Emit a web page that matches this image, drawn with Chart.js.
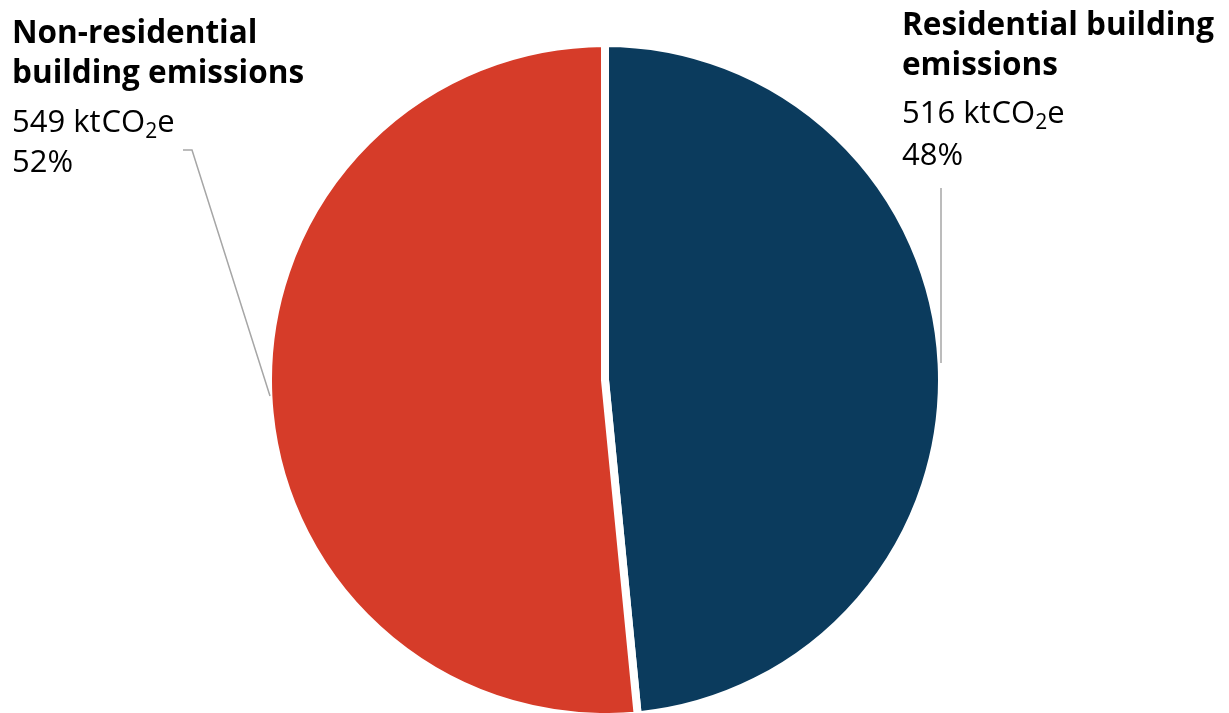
<!DOCTYPE html>
<html>
<head>
<meta charset="utf-8">
<script src="https://cdn.jsdelivr.net/npm/chart.js@4/dist/chart.umd.min.js"></script>
<style>
  html, body { margin: 0; padding: 0; background: #fff; }
  #wrap { width: 1229px; height: 713px; position: relative; }
</style>
</head>
<body>
<div id="wrap"><canvas id="pie"></canvas></div>
<script>
(() => {
    "use strict";

    const categories = ["Residential building emissions", "Non-residential building emissions"];
    const values = [516, 549];
    const colors = ["#0b3b5d", "#d63c29"];
    const unit = ["kt", "CO", "2", "e"];

    const total = values.reduce((a, b) => a + b, 0);
    const pct = values.map((v) => Math.round((v / total) * 100) + "%");

    const BOLD = "bold 31.5px 'Open Sans'";
    const REG = "31px 'Open Sans'";
    const SUB = "21px 'Open Sans'";

    // draws a label block: bold title lines, value with subscript, percent
    function drawLabel(ctx, x, baselines, titleLines, value, percent) {
        ctx.fillStyle = "#000";
        ctx.textBaseline = "alphabetic";
        ctx.textAlign = "left";
        ctx.font = BOLD;
        titleLines.forEach((t, i) => ctx.fillText(t, x, baselines[i]));
        const yv = baselines[titleLines.length];
        ctx.font = REG;
        let cx = x;
        const first = value + " " + unit[0];
        ctx.fillText(first, cx, yv);
        cx += ctx.measureText(first).width + 1;
        ctx.fillText(unit[1], cx, yv);
        cx += ctx.measureText(unit[1]).width;
        ctx.font = SUB;
        ctx.fillText(unit[2], cx, yv + 6);
        cx += ctx.measureText(unit[2]).width;
        ctx.font = REG;
        ctx.fillText(unit[3], cx, yv);
        ctx.fillText(percent, x, baselines[titleLines.length + 1]);
    }

    const labelPlugin = {
        id: "pieLabels",
        afterDraw(chart) {
            const ctx = chart.ctx;
            const arc = chart.getDatasetMeta(0).data[0];
            const cx = arc.x, cy = arc.y, r = arc.outerRadius;
            ctx.save();
            // leader lines
            ctx.strokeStyle = "#a6a6a6";
            ctx.lineWidth = 1.5;
            ctx.beginPath();
            ctx.moveTo(cx + r - 1, 188);
            ctx.lineTo(cx + r - 1, cy - 17);
            ctx.stroke();
            ctx.beginPath();
            ctx.moveTo(183, 150);
            ctx.lineTo(192, 150);
            ctx.lineTo(cx - r + 2, cy + 16);
            ctx.stroke();

            drawLabel(ctx, 902, [35, 75, 123, 165],
                ["Residential building", "emissions"], values[0], pct[0]);
            drawLabel(ctx, 12, [43, 83, 132, 172],
                ["Non-residential", "building emissions"], values[1], pct[1]);
            ctx.restore();
        },
    };

    const canvas = document.getElementById("pie");
    // @ts-ignore
    new Chart(canvas, {
        type: "pie",
        data: {
            labels: categories,
            datasets: [{
                data: values,
                backgroundColor: colors,
                borderColor: "#ffffff",
                borderWidth: 8,
                hoverOffset: 0,
            }],
        },
        options: {
            responsive: true,
            maintainAspectRatio: false,
            animation: false,
            radius: 337,
            layout: { padding: { top: 47, left: 272, right: 291, bottom: 0 } },
            plugins: {
                legend: { display: false },
                tooltip: { enabled: false },
            },
        },
        plugins: [labelPlugin],
    });
})();
</script>
</body>
</html>
